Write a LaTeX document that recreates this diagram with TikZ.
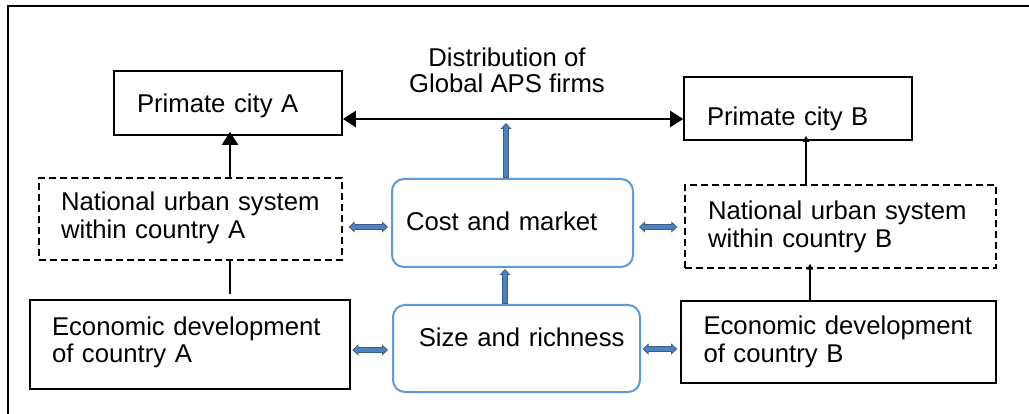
\documentclass[tikz,border=0pt]{standalone}
\usepackage{fontspec}
\setmainfont{Liberation Sans}
\usetikzlibrary{arrows.meta}

\definecolor{boxblue}{RGB}{91,155,213}
\definecolor{arrowblue}{RGB}{79,129,189}
\definecolor{arrowedge}{RGB}{56,93,138}

\tikzset{
  bigtip/.tip={Triangle[width=16pt,length=13pt]},
  smalltip/.tip={Triangle[width=6pt,length=6pt]},
  bluetip/.tip={Triangle[width=11pt,length=6pt,line width=0.8pt,fill=arrowblue]},
  cityfont/.style={font=\fontsize{25.7pt}{28pt}\selectfont},
  plainbox/.style={draw, line width=1.7pt, align=left, inner xsep=0pt, cityfont},
  dashbox/.style={plainbox, line width=1.4pt, dash pattern=on 7pt off 4pt},
  bluebox/.style={draw=boxblue, line width=2pt, rounded corners=12pt, cityfont},
  fatblue/.style={draw=arrowedge, line width=6pt},
  fatfill/.style={postaction={draw=arrowblue, line width=4.2pt, -, shorten <=#1, shorten >=4.5pt}},
}

\begin{document}
\begin{tikzpicture}[x=1pt,y=-1pt]
\useasboundingbox (0,0) rectangle (1029,414);
\draw[line width=2pt] (8,6) rectangle (1040,430);

% country A
\node[plainbox, minimum width=228pt, minimum height=64pt, text width=182pt, text height=19.4pt, text depth=0pt] (primA) at (228,103) {Primate city A};
\node[dashbox, minimum width=303pt, minimum height=82pt, text width=259pt, text height=18pt, text depth=34pt] (nusA) at (190.5,219) {National urban system\\within country A};
\node[plainbox, minimum width=320pt, minimum height=89pt, text width=276pt, text height=18pt, text depth=37pt] (econA) at (190,344.5) {Economic development\\of country A};

% country B
\node[plainbox, minimum width=228pt, minimum height=63pt, text width=182pt, text height=35pt, text depth=0pt] (primB) at (798,108.5) {Primate city B};
\node[dashbox, minimum width=311pt, minimum height=83pt, text width=265pt] (nusB) at (840.5,226.5) {National urban system\\within country B};
\node[plainbox, minimum width=315pt, minimum height=82pt, text width=270pt] (econB) at (838.5,342) {Economic development\\of country B};

% factors in the middle
\node[bluebox, minimum width=241pt, minimum height=88pt, text width=213pt, align=left, text height=16pt, text depth=0pt] (cost) at (512.5,223) {Cost and market};
\node[bluebox, minimum width=247pt, minimum height=87pt, text width=216pt, align=right, text height=18pt, text depth=21pt] (size) at (516.5,348.5) {Size and richness};

\node[align=center, font=\fontsize{25.7pt}{26pt}\selectfont] (apsfirms) at (507,70.5) {Distribution of\\Global APS firms};
\coordinate (flowtop) at (506,123);

% black connectors
\draw[line width=2.2pt, bigtip-bigtip] ([yshift=-16pt]primA.east) -- ([yshift=-10.5pt]primB.west);
\draw[line width=2.2pt, -bigtip, shorten >=-4pt] ([xshift=39.5pt]nusA.north) -- ([xshift=2pt]primA.south);
\draw[line width=1.6pt] ([xshift=39.5pt]nusA.south) -- ([xshift=40pt,yshift=5pt]econA.north);
\draw[line width=1.3pt, -smalltip, shorten >=-5pt] ([xshift=-34.5pt]nusB.north) -- ([xshift=8pt]primB.south);
\draw[line width=1.3pt, -smalltip, shorten >=-5pt] ([xshift=-28.5pt]econB.north) -- ([xshift=-30.5pt]nusB.south);

% blue connectors
\draw[fatblue, fatfill=4.5pt, bluetip-bluetip] ([xshift=6pt,yshift=-8pt]nusA.east) -- ([xshift=-3pt,yshift=-4pt]cost.west);
\draw[fatblue, fatfill=4.5pt, bluetip-bluetip] ([xshift=5pt,yshift=-4pt]cost.east) -- ([xshift=-7pt,yshift=-0.5pt]nusB.west);
\draw[fatblue, fatfill=4.5pt, bluetip-bluetip] ([xshift=1.5pt,yshift=-5.5pt]econA.east) -- ([xshift=-4pt,yshift=-1.5pt]size.west);
\draw[fatblue, fatfill=4.5pt, bluetip-bluetip] ([xshift=1.5pt,yshift=-0.5pt]size.east) -- ([xshift=-3pt,yshift=-7pt]econB.west);
\draw[fatblue, fatfill=0.6pt, -bluetip] ([xshift=-11.5pt]size.north) -- ([xshift=-7.5pt,yshift=-1pt]cost.south);
\draw[fatblue, fatfill=0.6pt, -bluetip] ([xshift=-6.5pt]cost.north) -- (flowtop);
\end{tikzpicture}
\end{document}
